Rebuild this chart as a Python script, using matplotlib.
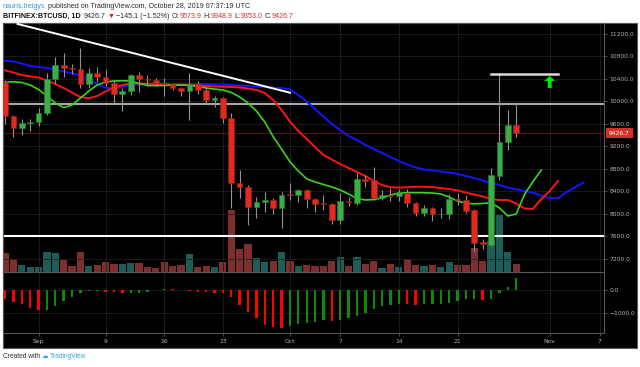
import numpy as np
import pandas as pd
import matplotlib
matplotlib.use("Agg")
import matplotlib.pyplot as plt
import matplotlib.dates as mdates
import matplotlib.transforms as mtransforms
from matplotlib.patches import Rectangle, FancyArrowPatch

# daily BTCUSD candles, 2019-08-28 .. 2019-10-28
opens = [10343, 9733, 9514, 9604, 9630, 9780, 10386, 10640, 10595, 10575,
         10300, 10490, 10420, 10315, 10124, 10183, 10462, 10386, 10375, 10325,
         10297, 10225, 10183, 10302, 10196, 10018, 10059, 9703, 8536, 8476,
         8110, 8210, 8240, 8092, 8346, 8330, 8418, 8252, 8180, 8163,
         7884, 8222, 8192, 8608, 8590, 8280, 8330, 8310, 8360, 8192,
         8014, 8092, 7986, 7990, 8258, 8240, 8062, 7500, 7440, 8672,
         9276, 9573.9]
highs = [10370, 9750, 9680, 9680, 9870, 10490, 10777, 10860, 10660, 10937,
         10590, 10600, 10560, 10370, 10225, 10480, 10510, 10460, 10410, 10404,
         10320, 10250, 10490, 10360, 10230, 10090, 10080, 9793, 8773, 8500,
         8300, 8388, 8270, 8388, 8536, 8430, 8430, 8270, 8330, 8180,
         8360, 8300, 8714, 8690, 8833, 8410, 8460, 8440, 8440, 8200,
         8150, 8120, 8100, 8346, 8360, 8330, 8080, 7540, 8815, 10490,
         9840, 9948.9]
lows = [9591, 9366, 9390, 9460, 9550, 9760, 10314, 10420, 10480, 10225,
        10225, 10345, 10260, 9970, 9828, 10100, 10160, 10260, 10280, 10089,
        10190, 10090, 9662, 10125, 9950, 9888, 9615, 8092, 8270, 7795,
        7914, 8032, 8000, 7737, 8240, 8210, 8092, 8030, 8060, 7813,
        7813, 8130, 8150, 8470, 8240, 8240, 8220, 8230, 8110, 7960,
        7950, 7866, 7920, 7895, 8160, 8010, 7338, 7370, 7420, 8600,
        9129, 9353.0]
closes = [9733, 9514, 9604, 9630, 9780, 10386, 10640, 10592, 10575, 10300,
          10490, 10420, 10315, 10124, 10183, 10462, 10386, 10375, 10325, 10297,
          10225, 10183, 10302, 10196, 10018, 10059, 9703, 8536, 8476, 8110,
          8210, 8240, 8092, 8330, 8330, 8418, 8252, 8163, 8163, 7884,
          8222, 8200, 8608, 8583, 8280, 8330, 8310, 8377, 8192, 8014,
          8092, 7986, 8000, 8252, 8235, 8044, 7481, 7452, 8684, 9266,
          9573, 9426.7]
# volume, thousand BTC
volumes = [18.7, 13, 7, 5.3, 5.3, 20.3, 19.3, 12, 6, 20.3,
           6.3, 7, 9.7, 8, 7.7, 8.7, 8.7, 5.3, 3.7, 10.3,
           6, 7, 17.7, 5.3, 6, 5.3, 10.3, 62, 23, 28,
           14.3, 10, 11.3, 19.7, 11, 6, 7, 6, 6.3, 11,
           14.7, 6.3, 15.3, 8, 11, 3.7, 7.7, 4.7, 13, 7,
           6, 7, 5.5, 10, 7, 7.5, 23.7, 11, 31, 57,
           19.7, 8]
# awesome oscillator
ao_values = [-380, -500, -606, -773, -879, -870, -682, -485, -303, -106,
             -40, -20, -60, -90, -120, -110, -105, -60, 5, 75,
             60, 30, -30, -60, -75, -105, -135, -300, -636, -955,
             -1258, -1560, -1652, -1682, -1590, -1515, -1470, -1410, -1330, -1380,
             -1330, -1250, -1150, -1000, -833, -712, -636, -606, -620, -636,
             -630, -625, -606, -576, -485, -394, -390, -424, -364, -106,
             167, 560]
# alligator lines (shifted forward past the last candle)
jaw = [10716, 10702, 10667, 10622, 10604, 10587, 10560, 10524, 10490, 10455,
       10391, 10302, 10236, 10226, 10254, 10276, 10293, 10302, 10302, 10302,
       10302, 10302, 10302, 10302, 10302, 10297, 10292, 10284, 10276, 10267,
       10254, 10250, 10240, 10231, 10208, 10107, 9991, 9858, 9724, 9591,
       9484, 9378, 9307, 9218, 9147, 9076, 9004, 8933, 8871, 8818,
       8782, 8764, 8747, 8729, 8702, 8667, 8631, 8587, 8542, 8507,
       8462, 8430, 8400, 8370, 8320, 8275, 8270, 8380, 8465, 8548]
teeth = [10546, 10507, 10462, 10436, 10418, 10364, 10302, 10231, 10151, 10071,
         10048, 10089, 10169, 10240, 10284, 10311, 10315, 10311, 10302, 10293,
         10284, 10284, 10284, 10276, 10267, 10258, 10254, 10249, 10240, 10222,
         10196, 10142, 10018, 9840, 9636, 9467, 9324, 9182, 9040, 8960,
         8880, 8809, 8738, 8667, 8578, 8507, 8466, 8462, 8466, 8475,
         8475, 8468, 8453, 8436, 8409, 8373, 8338, 8302, 8258, 8240,
         8240, 8178, 8089, 8080, 8258, 8400, 8578]
lips = [10332, 10343, 10329, 10284, 10204, 10089, 9964, 9884, 9929, 10053,
        10178, 10284, 10338, 10356, 10361, 10356, 10311, 10276, 10272, 10276,
        10284, 10284, 10276, 10258, 10231, 10213, 10196, 10151, 10071, 9964,
        9822, 9627, 9365, 9147, 8921, 8756, 8617, 8560, 8516, 8471,
        8418, 8347, 8267, 8240, 8249, 8276, 8329, 8364, 8370, 8370,
        8370, 8364, 8347, 8293, 8222, 8181, 8172, 8178, 8192, 8098,
        7956, 7991, 8341, 8566, 8773]

price_ticks = [7200, 7600, 8000, 8400, 8800, 9200, 9600, 10000, 10400, 10800, 11200]
ao_ticks = [0, -1000]
date_ticks = ["2019-09-01", "2019-09-09", "2019-09-16", "2019-09-23", "2019-10-01",
              "2019-10-07", "2019-10-14", "2019-10-21", "2019-11-01", "2019-11-07"]
date_labels = ["Sep", "9", "16", "23", "Oct", "7", "14", "21", "Nov", "7"]

# drawings
trend_line = (["2019-08-29 12:00", "2019-10-01 00:00"], [11370, 10148])
top_line = (["2019-10-25", "2019-11-02"], [10480, 10480])
arrow_at = ("2019-11-01", 10230, 10445)
resistance = 9950
support = 7600

W, H = 640, 367
fig = plt.figure(figsize=(W / 100, H / 100), dpi=100, facecolor="white")


def box(x0, y0, x1, y1):
    return [x0 / W, 1 - y1 / H, (x1 - x0) / W, (y1 - y0) / H]


def to_num(dates):
    return mdates.date2num(pd.to_datetime(dates, format="mixed"))


fig.patches.append(Rectangle((3 / W, 1 - 348 / H), 634 / W, 325 / H, transform=fig.transFigure,
                             facecolor="black", edgecolor="#5a5a5a", lw=0.8, zorder=-5))

start = pd.Timestamp("2019-08-28")
x0 = mdates.date2num(start)
days = np.arange(len(opens)) + x0
opens_a, closes_a = np.array(opens), np.array(closes)
up = closes_a >= opens_a

vol_ax = fig.add_axes(box(3, 23, 604, 272))
vol_ax.set_facecolor("black")
ax = fig.add_axes(box(3, 23, 604, 272), sharex=vol_ax)
ax.patch.set_visible(False)
ax.set_zorder(2)
ao = fig.add_axes(box(3, 272, 604, 333), sharex=vol_ax)
ao.set_facecolor("black")

ax.set_xlim(x0 - 0.24, x0 + 71.48)

# volume
vol_ax.bar(days, volumes, width=0.86, color=np.where(up, "#1e5c57", "#7d2f2f"), zorder=1)
vol_ax.set_ylim(0, 249)
vol_ax.axis("off")

# candles
ax.vlines(days, lows, highs, color="#939393", lw=0.8, zorder=4)
body = np.maximum(np.abs(closes_a - opens_a), 14)
ax.bar(days, body, bottom=np.minimum(opens_a, closes_a), width=0.68,
       color=np.where(up, "#3cae46", "#e02b20"),
       edgecolor=np.where(up, "#2a7a31", "#9a1e16"), lw=0.4, zorder=5)

# alligator
ax.plot(x0 + np.arange(len(jaw)), jaw, color="#1414ff", lw=1.4, zorder=3)
ax.plot(x0 + np.arange(len(teeth)), teeth, color="#ff1414", lw=1.4, zorder=3)
ax.plot(x0 + np.arange(len(lips)), lips, color="#3ad41e", lw=1.2, zorder=3)

# levels and drawings
ax.axhline(resistance, color="#a8a8a8", lw=1.5, zorder=2)
ax.axhline(support, color="white", lw=1.5, zorder=2)
ax.axhline(closes[-1], color="#5c1010", lw=0.7, zorder=2)
ax.plot(to_num(trend_line[0]), trend_line[1], color="white", lw=1.4, zorder=6)
ax.plot(to_num(top_line[0]), top_line[1], color="#d8d8d8", lw=1.8, zorder=6)
arrow_x = to_num([arrow_at[0]])[0]
ax.add_patch(FancyArrowPatch((arrow_x, arrow_at[1]), (arrow_x, arrow_at[2]),
                             arrowstyle="simple,head_length=0.4,head_width=0.9,tail_width=0.32",
                             mutation_scale=9, color="#00e600", lw=0, shrinkA=0, shrinkB=0,
                             zorder=7))

ax.set_ylim(6960, 11387)
ax.yaxis.tick_right()
ax.set_yticks(price_ticks)
ax.set_yticklabels([f"{v:.1f}" for v in price_ticks])

ao.set_xticks(to_num(date_ticks))
ao.set_xticklabels(date_labels)

for a in (ax, ao):
    a.grid(True, color="#1f1f1f", lw=0.6)
    a.set_axisbelow(True)
    a.tick_params(colors="#6a6a6a", labelcolor="#b4b4b4", labelsize=4.3, length=2, width=0.5, pad=2)
    for s in a.spines.values():
        s.set_color("#555555")
        s.set_linewidth(0.8)
ax.tick_params(axis="x", labelbottom=False, length=0)

# awesome oscillator
ao_a = np.array(ao_values)
ao_up = np.r_[False, ao_a[1:] >= ao_a[:-1]]
ao.bar(days, ao_values, width=0.28, color=np.where(ao_up, "#0b8a0b", "#ff0000"), zorder=3)
ao.set_ylim(-1930, 840)
ao.yaxis.tick_right()
ao.set_yticks(ao_ticks)
ao.set_yticklabels(["0.0", "\u22121000.0"])

# last price tag
tag_tr = mtransforms.blended_transform_factory(ax.transAxes, ax.transData)
ax.text(1.0 + 5 / 601, closes[-1], f"{closes[-1]:.1f}", transform=tag_tr, ha="left", va="center",
        color="white", fontsize=4.3, zorder=10, clip_on=False,
        bbox=dict(boxstyle="square,pad=0.45", facecolor="#d5302a", edgecolor="none"))

# header / footer text
fig.canvas.draw()
renderer = fig.canvas.get_renderer()


def write_parts(x, y, parts, size):
    for text, color, weight, gap in parts:
        t = fig.text(x / W, 1 - y / H, text, color=color, fontsize=size, fontweight=weight,
                     ha="left", va="center", family=["Liberation Sans", "DejaVu Sans"])
        x += t.get_window_extent(renderer).width + gap


red = "#d32f2f"
dark = "#2b2b2b"
write_parts(3, 6, [("nauris.treigys", "#2e9be0", "normal", 2),
                   ("published on TradingView.com, October 28, 2019 07:37:19 UTC", dark, "normal", 0)], 5.1)
write_parts(3, 16, [("BITFINEX:BTCUSD, 1D", "#111111", "bold", 3),
                    ("9426.7", dark, "normal", 2), ("\u25bc", "#c81e1e", "normal", 2),
                    ("\u2212145.1 (\u22121.52%)", dark, "normal", 2),
                    ("O:", dark, "normal", 0), ("9573.9", red, "normal", 2),
                    ("H:", dark, "normal", 0), ("9948.9", red, "normal", 2),
                    ("L:", dark, "normal", 0), ("9353.0", red, "normal", 2),
                    ("C:", dark, "normal", 0), ("9426.7", red, "normal", 0)], 5.1)
write_parts(3, 357, [("Created with", dark, "normal", 2),
                     ("\u2601", "#3aa3e0", "normal", 1),
                     ("TradingView", "#3aa3e0", "normal", 0)], 4.8)

fig.savefig("out.png", dpi=100, facecolor="white")
